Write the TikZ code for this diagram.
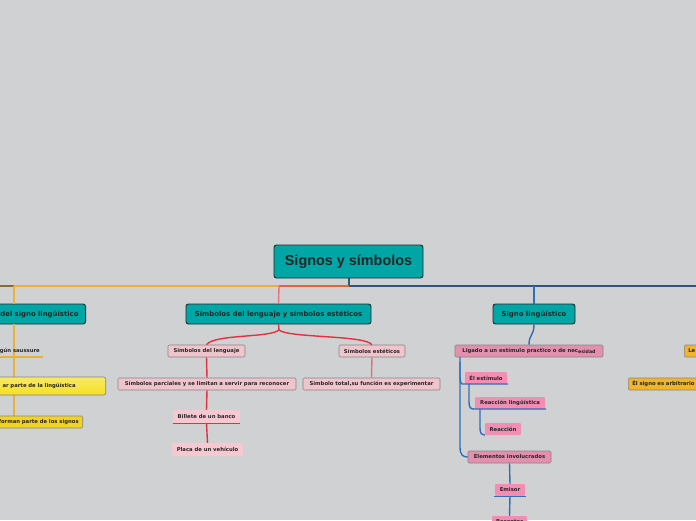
\documentclass[tikz,border=0pt]{standalone}
\usepackage{fontspec}
\usetikzlibrary{calc}
\setmainfont{DejaVu Sans}
\newfontfamily\rootfont{Liberation Sans}
\definecolor{bgc}{HTML}{D0D1D3}
\definecolor{tealc}{HTML}{00A6A6}
\definecolor{pinkc}{HTML}{EFC4CC}
\definecolor{lpinkc}{HTML}{F6C8D2}
\definecolor{hpinkc}{HTML}{F28DB4}
\definecolor{mauvec}{HTML}{E58FAE}
\definecolor{yellowc}{HTML}{F5E024}
\definecolor{yellow2c}{HTML}{F0D421}
\definecolor{orangec}{HTML}{F0B52A}
\definecolor{yline}{HTML}{E8B232}
\definecolor{rline}{HTML}{E23240}
\definecolor{rline2}{HTML}{E8707E}
\definecolor{oline}{HTML}{E5603C}
\definecolor{bline}{HTML}{2E70B8}
\definecolor{dbline}{HTML}{34557A}
\definecolor{brline}{HTML}{8B6A3A}
\definecolor{bordc}{HTML}{858585}
\begin{document}
\begin{tikzpicture}[x=1pt,y=-1pt,
  nd/.style={inner sep=0pt, minimum height=12pt, text=black!85, rounded corners=1.2pt,
    font=\fontsize{5.3}{6}\selectfont\bfseries},
  tealbox/.style={nd, fill=tealc, draw=black!85, line width=0.9pt, rounded corners=2.5pt,
    minimum height=20pt, font=\fontsize{6.9}{8}\selectfont\bfseries},
  pbox/.style={nd, fill=pinkc, draw=bordc, line width=0.6pt},
  lpbox/.style={nd, fill=lpinkc},
  hpbox/.style={nd, fill=hpinkc},
  mbox/.style={nd, fill=mauvec, draw=bordc, line width=0.6pt},
  ybox/.style={nd, top color=yellowc!70!white, bottom color=yellowc, draw=bordc, line width=0.6pt},
  y2box/.style={nd, fill=yellow2c, draw=bordc, line width=0.6pt},
  obox/.style={nd, fill=orangec, draw=bordc, line width=0.6pt},
  ln/.style={line width=1.4pt},
]
\useasboundingbox (0,0) rectangle (696,520);
\clip (0,0) rectangle (696,520);
\fill[bgc] (0,0) rectangle (696,520);

% ---------- connectors (drawn first) ----------
\coordinate (rb) at (349,278);
\coordinate (j1) at (349,286);
\coordinate (j2) at (279,286);
\coordinate (j3) at (14,286);
\coordinate (l0) at (0,286);
\coordinate (rend) at (696,286);
\coordinate (bj) at (534,286);
\draw[ln, dbline] (rb) -- (j1) -- (rend);
\draw[ln, oline] (j1) -- (j2);
\draw[ln, yline] (j2) -- (j3);
\draw[ln, brline] (j3) -- (l0);

% ---------- root ----------
\node[tealbox, minimum width=149pt, minimum height=33pt, font=\rootfont\fontsize{14.4}{16}\selectfont\bfseries]
  (root) at (348.5,261.5) {Signos y símbolos};

% ---------- left branch ----------
\node[tealbox, anchor=east, text width=100pt, align=right, inner xsep=7pt] (L1) at (86,314) {del signo lingüístico};
\draw[ln, yline] (j3) -- (L1.north -| j3);
\coordinate (ls) at (14,324);
\coordinate (le) at (14,416);
\draw[ln, yline] (ls) -- (le);
\node[nd, anchor=east, text width=60pt, align=right, inner xsep=2pt] (L2) at (42,351) {gún saussure};
\coordinate (u1a) at (0,357);
\coordinate (u1b) at (43,357);
\draw[ln, yline] (u1a) -- (u1b);
\node[ybox, anchor=east, text width=140pt, align=right, inner xsep=0pt, minimum height=18pt, rounded corners=2pt] (L3) at (106,386) {ar parte de la lingüística\hspace*{30pt}};
\node[y2box, anchor=east, text width=90pt, align=right, inner xsep=4pt] (L4) at (83,422) {forman parte de los signos};

% ---------- middle branch ----------
\node[tealbox, minimum width=185pt] (M) at (278.5,314) {Símbolos del lenguaje y símbolos estéticos};
\draw[ln, rline2] (j2) -- (M.north);
\node[pbox, minimum width=77pt] (SL) at (206.5,351) {Símbolos del lenguaje};
\node[pbox, minimum width=66pt] (SE) at (372,351) {Símbolos estéticos};
\coordinate (mj) at (279,330);
\draw[ln, rline] (M.south) -- (mj) .. controls (270,338) and (214,334) .. (SL.north);
\draw[ln, rline] (mj) .. controls (288,338) and (365,335) .. (SE.north);
\node[pbox, minimum width=178pt] (SP) at (207,384) {Símbolos parciales y se limitan a servir para reconocer};
\node[lpbox, minimum width=67pt, minimum height=13pt] (BB) at (206.5,416.5) {Billete de un banco};
\node[lpbox, minimum width=71pt, minimum height=13pt] (PV) at (207.5,449.5) {Placa de un vehículo};
\node[pbox, minimum width=137pt] (ST) at (371.5,384) {Símbolo total,su función es experimentar};
\draw[ln, rline] (SL.south) -- (SP.north);
\draw[ln, rline] (SP.south) -- (BB.north);
\draw[ln, rline] (BB.south west) -- (BB.south east);
\draw[ln, rline] (BB.south) -- (PV.north);
\draw[ln, rline2] (SE.south) -- (ST.north);

% ---------- right branch ----------
\node[tealbox, minimum width=82pt] (S) at (534,314) {Signo lingüístico};
\draw[ln, bline] (bj) -- (S.north);
\node[mbox, minimum width=148pt] (LG) at (529,351) {Ligado a un estímulo practico o de nec\raisebox{-0.8pt}{\fontsize{4.7}{5}\selectfont esidad}};
\draw[ln, bline] (S.south) .. controls (534,336) and (529,334) .. (LG.north);
\node[hpbox, minimum width=42pt] (EE) at (486,378) {Él estímulo};
\node[hpbox, minimum width=70pt] (RL) at (510,403) {Reacción lingüística};
\node[hpbox, minimum width=36pt] (RE) at (503,429) {Reacción};
\node[mbox, minimum width=83pt] (EI) at (509.5,457) {Elementos involucrados};
\node[hpbox, minimum width=30pt] (EM) at (510,490) {Emisor};
\node[hpbox, minimum width=35pt] (RC) at (509.5,522) {Receptor};
\coordinate (t0) at (460,357);
\coordinate (e1) at (462,384);
\coordinate (e2) at (508,384);
\coordinate (r0) at (469,384);
\coordinate (r1) at (474,409);
\coordinate (r2) at (546,409);
\coordinate (q0) at (480,409);
\draw[ln, bline] (t0) -- (460,447) .. controls (460,455) and (463,457) .. (EI.west);
\draw[ln, bline] (460,362) -- (460,377) .. controls (460,383) and (462,384) .. (e1) -- (e2);
\draw[ln, bline] (r0) -- (469,402) .. controls (469,408) and (471,409) .. (r1) -- (r2);
\draw[ln, bline] (q0) -- (480,428) .. controls (480,434) and (482,435) .. (RE.south west);
\draw[ln, bline] (EI.south) -- (EM.north);
\draw[ln, bline] ($(EM.south west)+(-1,0)$) -- ($(EM.south east)+(1,0)$);
\draw[ln, bline] (EM.south) -- (RC.north);

% ---------- far right ----------
\node[obox, anchor=west, text width=30pt, align=left, inner xsep=4pt] (LE) at (684,351) {Le};
\node[obox, anchor=west, text width=90pt, align=left, inner xsep=4pt] (AR) at (628,384) {Él signo es arbitrario};
\end{tikzpicture}
\end{document}
